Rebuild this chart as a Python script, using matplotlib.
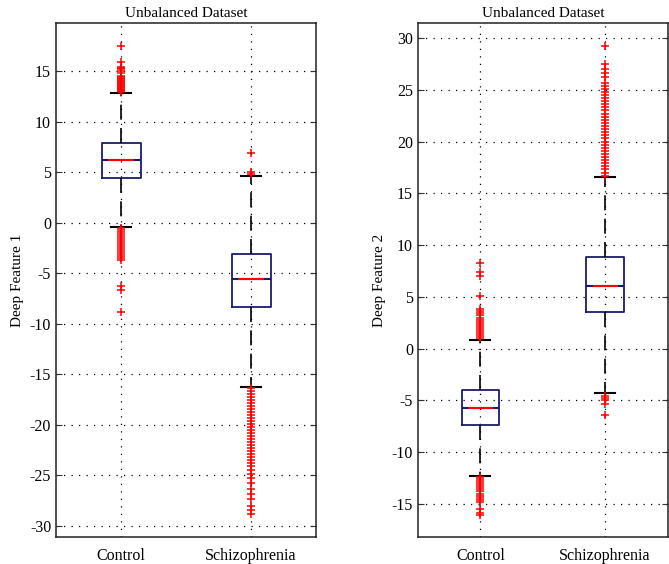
import matplotlib
matplotlib.use("Agg")
import matplotlib.pyplot as plt

plt.rcParams["font.family"] = ["Liberation Serif", "DejaVu Serif"]
plt.rcParams["axes.unicode_minus"] = False

groups = ["Control", "Schizophrenia"]

# Deep Feature 1 : (q1, median, q3, lower whisker, upper whisker)
f1_stats = [(4.5, 6.2, 7.9, -0.4, 12.9), (-8.3, -5.6, -3.1, -16.2, 4.6)]
f1_fliers = [
    [13.0, 13.1, 13.2, 13.3, 13.4, 13.5, 13.6, 13.7, 13.8, 13.9, 14.0, 14.1,
     14.2, 14.3, 14.4, 14.5, 14.6, 14.8, 15.0, 15.2, 15.3, 15.4, 15.9, 17.5,
     -0.5, -0.7, -0.9, -1.1, -1.3, -1.5, -1.7, -1.9, -2.1, -2.3, -2.5, -2.7,
     -2.9, -3.1, -3.3, -3.5, -3.7, -6.25, -6.65, -8.8],
    [4.8, 5.0, 6.9,
     -16.3, -16.6, -16.9, -17.2, -17.5, -17.8, -18.1, -18.4, -18.7, -19.0,
     -19.3, -19.6, -19.9, -20.2, -20.5, -20.8, -21.1, -21.4, -21.7, -22.0,
     -22.3, -22.6, -22.9, -23.2, -23.5, -23.8, -24.1, -24.5, -24.9, -25.3,
     -25.8, -26.3, -26.8, -27.3, -28.0, -28.4, -28.8],
]

# Deep Feature 2
f2_stats = [(-7.4, -5.7, -4.0, -12.3, 0.85), (3.5, 6.0, 8.8, -4.3, 16.6)]
f2_fliers = [
    [1.0, 1.2, 1.4, 1.6, 1.8, 2.0, 2.2, 2.4, 2.6, 2.8, 3.0, 3.2, 3.4, 3.6,
     3.8, 5.1, 7.0, 7.4, 8.3,
     -12.4, -12.6, -12.8, -13.0, -13.2, -13.4, -13.6, -13.8, -14.0, -14.2,
     -14.4, -14.6, -14.8, -15.5, -15.9, -16.1],
    [16.7, 17.0, 17.3, 17.6, 17.9, 18.2, 18.5, 18.8, 19.1, 19.4, 19.7, 20.0,
     20.3, 20.6, 20.9, 21.2, 21.5, 21.8, 22.1, 22.4, 22.7, 23.0, 23.3, 23.6,
     23.9, 24.2, 24.5, 24.8, 25.1, 25.4, 25.7, 26.2, 26.6, 27.0, 27.5, 29.2,
     -4.6, -4.8, -5.0, -5.4, -6.4],
]

navy = "#1a1a6e"


def draw(ax, stats, fliers, ylabel, ylim, yticks):
    bxp_stats = []
    for name, (q1, med, q3, lo, hi), fl in zip(groups, stats, fliers):
        bxp_stats.append(dict(label=name, q1=q1, med=med, q3=q3,
                              whislo=lo, whishi=hi, fliers=fl))
    ax.bxp(bxp_stats, positions=[1, 2], widths=0.3, capwidths=0.16,
           boxprops=dict(color=navy, linewidth=1.3),
           medianprops=dict(color=navy, linewidth=1.5),
           whiskerprops=dict(color="black", linewidth=1.2, linestyle=(0, (9, 5))),
           capprops=dict(color="black", linewidth=1.5),
           flierprops=dict(marker="+", markeredgecolor="red", markersize=6,
                           markeredgewidth=1.1, linestyle="none"),
           zorder=3)
    # red centre of the median line
    meds = [s[1] for s in stats]
    ax.hlines(meds, [0.9, 1.9], [1.1, 2.1], colors="red", linewidth=1.5, zorder=4)

    ax.set_xlim(0.5, 2.5)
    ax.set_ylim(*ylim)
    ax.set_yticks(yticks)
    ax.set_xticks([1, 2])
    ax.set_xticklabels(groups)
    ax.grid(True, color="black", linestyle=(0, (1, 5)), linewidth=0.9)
    ax.set_axisbelow(True)
    ax.tick_params(direction="in", length=4, labelsize=11.5, right=True, top=True,
                   color="#333333")
    ax.tick_params(axis="x", length=0, pad=8)
    for sp in ax.spines.values():
        sp.set_linewidth(1.1)
        sp.set_color("#222222")
    ax.set_title("Unbalanced Dataset", fontsize=11, pad=4)
    ax.set_ylabel(ylabel, fontsize=11)


fig = plt.figure(figsize=(6.69, 5.64), dpi=100)
ax1 = fig.add_axes([56 / 669, 1 - 537 / 564, (316 - 56) / 669, (537 - 23) / 564])
ax2 = fig.add_axes([418 / 669, 1 - 537 / 564, (667.5 - 418) / 669, (537 - 23) / 564])

draw(ax1, f1_stats, f1_fliers, "Deep Feature 1", (-31.1, 19.8), range(-30, 16, 5))
draw(ax2, f2_stats, f2_fliers, "Deep Feature 2", (-18.2, 31.45), range(-15, 31, 5))

fig.savefig("out.png", dpi=100)
